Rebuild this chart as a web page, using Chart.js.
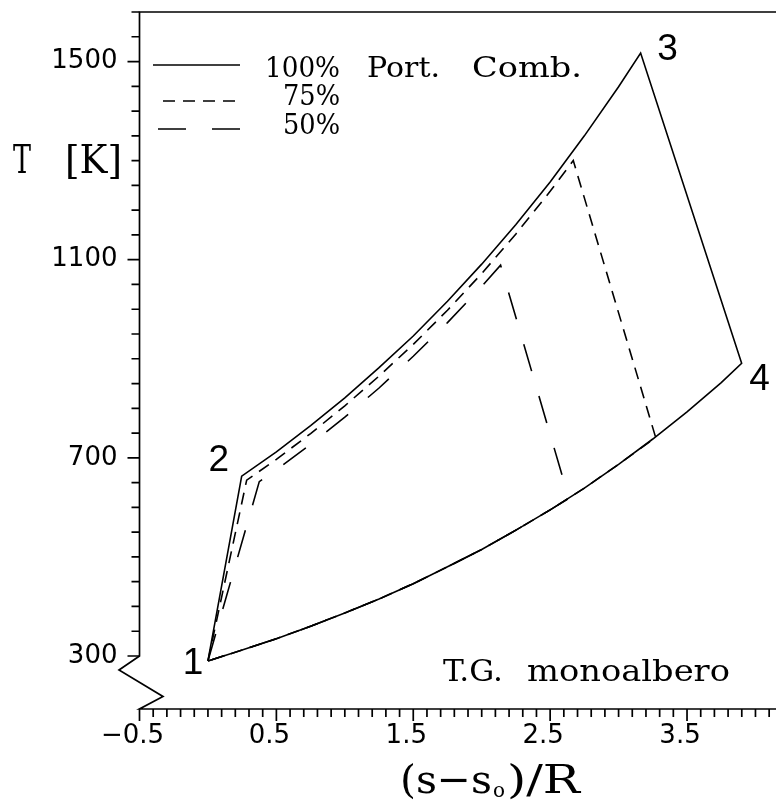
<!DOCTYPE html>
<html><head><meta charset="utf-8">
<script src="https://cdn.jsdelivr.net/npm/chart.js@4"></script>
<style>html,body{margin:0;padding:0;background:#fff}#wrap{width:776px;height:801px;position:relative}</style>
</head><body><div id="wrap"><canvas id="c"></canvas></div>
<script>
// Brayton cycle T-s
// 100%: compression 1-2, heat addition 2-3, expansion 3-4, heat rejection 4-1
const s100 = [0, 0.2465, 0.5, 0.75, 1.0, 1.25, 1.5, 1.75, 2.0, 2.25, 2.5, 2.75, 3.0, 3.161,
              3.899, 3.75, 3.5, 3.25, 3.0, 2.75, 2.5, 2.25, 2.0, 1.75, 1.5, 1.25, 1.0, 0.75, 0.5, 0.25, 0];
const T100 = [290, 663, 712, 765, 821, 882, 946, 1016, 1091, 1171, 1257, 1350, 1449, 1517,
              891, 852, 793, 738, 687, 639, 595, 554, 515, 480, 446, 415, 387, 360, 335, 312, 290];
const s75 = [0, 0.283, 0.5, 0.75, 1.0, 1.25, 1.5, 1.75, 2.0, 2.25, 2.5, 2.669,
             3.271, 3.0, 2.75, 2.5, 2.25, 2.0, 1.75, 1.5, 1.25, 1.0, 0.75, 0.5, 0.25, 0];
const T75 = [290, 655, 697, 749, 805, 865, 929, 998, 1072, 1152, 1238, 1300,
             741, 687, 639, 595, 554, 515, 480, 446, 415, 387, 360, 335, 312, 290];
const s50 = [0, 0.375, 0.5, 0.75, 1.0, 1.25, 1.5, 1.75, 2.0, 2.138,
             2.637, 2.5, 2.25, 2.0, 1.75, 1.5, 1.25, 1.0, 0.75, 0.5, 0.25, 0];
const T50 = [290, 652, 676, 727, 782, 841, 905, 973, 1046, 1089,
             618, 595, 554, 515, 480, 446, 415, 387, 360, 335, 312, 290];
const seriesNames = ['100%', '75%', '50%'];
const stateLabels = ['1', '2', '3', '4'];
const stateS = [0, 0.2465, 3.161, 3.899];
const stateT = [290, 663, 1517, 891];
const xTickLabels = [-0.5, 0.5, 1.5, 2.5, 3.5];
const yTickLabels = [300, 700, 1100, 1500];

const toPts = (s, T) => s.map((v, i) => ({x: v, y: T[i]}));
const DASH75 = [12, 8], DASH50 = [28, 26];

function fitText(ctx, text, x, y, w, font) {
  ctx.font = font;
  const m = ctx.measureText(text).width;
  ctx.save(); ctx.translate(x, y); ctx.scale(w / m, 1);
  ctx.textAlign = 'left'; ctx.textBaseline = 'alphabetic';
  ctx.fillText(text, 0, 0); ctx.restore();
}

const decor = {
  id: 'decor',
  afterDraw(chart) {
    const {ctx, chartArea: ca, scales: {x, y}} = chart;
    const W = chart.width;
    ctx.save();
    ctx.strokeStyle = '#000'; ctx.fillStyle = '#000'; ctx.lineWidth = 1.7;
    const L = x.getPixelForValue(-0.5);
    const yTop = y.getPixelForValue(1600), y300 = y.getPixelForValue(300), B = ca.bottom;
    ctx.beginPath();
    ctx.moveTo(W, yTop); ctx.lineTo(L, yTop); ctx.lineTo(L, y300);
    ctx.lineTo(L - 20.5, y300 + 14); ctx.lineTo(L + 23.5, B - 12.5); ctx.lineTo(L, B); ctx.lineTo(W, B);
    ctx.stroke();
    ctx.beginPath();
    y.ticks.forEach(t => {
      const py = y.getPixelForValue(t.value);
      const len = yTickLabels.includes(t.value) ? 12 : 8;
      ctx.moveTo(L, py); ctx.lineTo(L - len, py);
    });
    x.ticks.forEach(t => {
      const px = x.getPixelForValue(t.value);
      const major = xTickLabels.some(v => Math.abs(v - t.value) < 1e-6);
      ctx.moveTo(px, B); ctx.lineTo(px, B + (major ? 12 : 8));
    });
    ctx.stroke();

    // legend samples
    ctx.lineWidth = 1.6;
    ctx.beginPath(); ctx.setLineDash([]); ctx.moveTo(153, 65); ctx.lineTo(240, 65); ctx.stroke();
    ctx.beginPath(); ctx.setLineDash(DASH75); ctx.moveTo(163, 101); ctx.lineTo(240, 101); ctx.stroke();
    ctx.beginPath(); ctx.setLineDash(DASH50); ctx.moveTo(158, 129); ctx.lineTo(240, 129); ctx.stroke();
    ctx.setLineDash([]);

    const serif = s => s + 'px "DejaVu Serif"';
    fitText(ctx, seriesNames[0], 265, 77, 75, serif(27));
    fitText(ctx, 'Port.', 367, 77, 73, serif(27));
    fitText(ctx, 'Comb.', 472, 77, 110, serif(27));
    fitText(ctx, seriesNames[1], 283, 105, 57, serif(27));
    fitText(ctx, seriesNames[2], 283, 134, 57, serif(27));

    // axis titles
    fitText(ctx, 'T', 13, 173, 18, serif(39));
    fitText(ctx, '[K]', 65, 173, 57, serif(39));
    fitText(ctx, '(s\u2212s', 400, 793, 92, serif(40));
    fitText(ctx, 'o', 493, 797, 12, serif(21));
    fitText(ctx, ')/R', 507, 793, 73, serif(40));

    // note
    fitText(ctx, 'T.G.', 443, 681, 60, serif(30));
    fitText(ctx, 'monoalbero', 527, 681, 203, serif(30));

    // state numbers
    const offs = [[-15, 0], [-23, -19], [27, -7], [18, 13]];
    ctx.font = '37px "Liberation Sans"';
    ctx.textAlign = 'center'; ctx.textBaseline = 'alphabetic';
    stateLabels.forEach((lab, i) => {
      const px = x.getPixelForValue(stateS[i]) + offs[i][0];
      const py = y.getPixelForValue(stateT[i]) + offs[i][1];
      ctx.fillText(lab, px, py + 13.5);
    });
    ctx.restore();
  }
};

const lineDs = (label, s, T, dash) => ({
  label, data: toPts(s, T), showLine: true, pointRadius: 0, borderColor: '#000',
  borderWidth: 1.6, borderDash: dash, fill: false, tension: 0
});

new Chart(document.getElementById('c'), {
  type: 'scatter',
  data: {
    datasets: [
      lineDs(seriesNames[0], s100, T100, []),
      lineDs(seriesNames[1], s75, T75, DASH75),
      lineDs(seriesNames[2], s50, T50, DASH50)
    ]
  },
  options: {
    responsive: true, maintainAspectRatio: false, animation: false,
    events: [],
    layout: {padding: {top: 12, right: 0, left: 0, bottom: 0}},
    plugins: {legend: {display: false}, tooltip: {enabled: false}, title: {display: false}},
    scales: {
      x: {
        type: 'linear', position: 'bottom', min: -0.5, max: 4.15,
        border: {display: false},
        grid: {display: true, drawOnChartArea: false, drawTicks: false, color: 'rgba(0,0,0,0)'},
        afterBuildTicks: sc => {
          const t = [];
          for (let i = 0; i <= 46; i++) t.push({value: Math.round((-0.5 + i * 0.1) * 10) / 10});
          sc.ticks = t;
        },
        afterFit: sc => { sc.height = 92; sc.paddingLeft = 0; sc.paddingRight = 0; },
        ticks: {
          autoSkip: false, maxRotation: 0, minRotation: 0, padding: 12, labelOffset: -7,
          color: '#000', font: {family: 'DejaVu Sans', size: 26},
          callback: v => {
            const m = xTickLabels.find(l => Math.abs(l - v) < 1e-6);
            return m === undefined ? '' : (m < 0 ? '\u2212' + Math.abs(m).toFixed(1) : m.toFixed(1));
          }
        }
      },
      y: {
        type: 'linear', position: 'left', min: 193, max: 1600,
        border: {display: false},
        grid: {display: true, drawOnChartArea: false, drawTicks: false, color: 'rgba(0,0,0,0)'},
        afterBuildTicks: sc => {
          const t = [];
          for (let v = 300; v <= 1600; v += 50) t.push({value: v});
          sc.ticks = t;
        },
        afterFit: sc => { sc.width = 139.5; sc.paddingTop = 0; sc.paddingBottom = 0; },
        ticks: {
          autoSkip: false, padding: 22, color: '#000', font: {family: 'DejaVu Sans', size: 26},
          callback: v => yTickLabels.includes(v) ? String(v) : ''
        }
      }
    }
  },
  plugins: [decor]
});
</script>
</body></html>
